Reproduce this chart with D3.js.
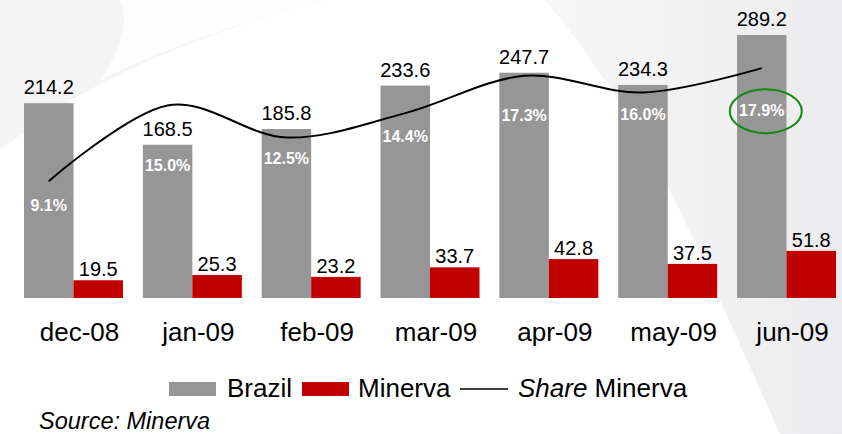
<!DOCTYPE html>
<html>
<head>
<meta charset="utf-8">
<script src="https://cdn.jsdelivr.net/npm/d3@7"></script>
<style>
  html, body { margin: 0; padding: 0; background: #ffffff; }
  svg { display: block; font-family: "Liberation Sans", Arial, sans-serif; }
</style>
</head>
<body>
<svg id="chart" width="842" height="434"></svg>
<script>
// ---- data ----
const categories = ["dec-08", "jan-09", "feb-09", "mar-09", "apr-09", "may-09", "jun-09"];
const brazil = [214.2, 168.5, 185.8, 233.6, 247.7, 234.3, 289.2];
const minerva = [19.5, 25.3, 23.2, 33.7, 42.8, 37.5, 51.8];
const shareMinerva = [9.1, 15.0, 12.5, 14.4, 17.3, 16.0, 17.9];
const seriesNames = ["Brazil", "Minerva"];

// ---- layout (not data) ----
const shareLabelDy = [30, 66, 26, 29, 45, 27, 48];
const colors = { Brazil: "#969696", Minerva: "#c00000" };

const svg = d3.select("#chart");

// background template shapes
const defs = svg.append("defs");
const grad = defs.append("linearGradient").attr("id", "rg").attr("x1", "0").attr("x2", "1").attr("y1", "0").attr("y2", "0");
grad.append("stop").attr("offset", "0").attr("stop-color", "#f7f7f8");
grad.append("stop").attr("offset", "1").attr("stop-color", "#ececee");
svg.append("path")
  .attr("d", "M545,0 C620,90 680,200 720,300 L780,434 L842,434 L842,0 Z")
  .attr("fill", "url(#rg)");
svg.append("path")
  .attr("d", "M0,0 L330,0 C250,20 160,50 80,95 C50,115 20,135 0,150 Z")
  .attr("fill", "#f5f5f6");
svg.append("path")
  .attr("d", "M120,0 L330,0 C250,20 170,45 100,80 C120,50 130,25 120,0 Z")
  .attr("fill", "#ffffff").attr("opacity", 0.8);

// ---- scales ----
const x = d3.scaleBand().domain(categories).range([24, 836]).paddingInner(0.167).paddingOuter(0);
const xs = d3.scaleBand().domain(seriesNames).range([0, x.bandwidth()]).padding(0);
const y = d3.scaleLinear().domain([0, 320]).range([298, 7]);
const yShare = d3.scaleLinear().domain([0, 20]).range([298, 41.2]);

const rows = categories.map((c, i) => ({ cat: c, Brazil: brazil[i], Minerva: minerva[i], share: shareMinerva[i], i }));

// bars
const g = svg.append("g");
const groups = g.selectAll("g.grp").data(rows).join("g")
  .attr("class", "grp")
  .attr("transform", d => `translate(${x(d.cat)},0)`);

groups.selectAll("rect").data(d => seriesNames.map(s => ({ s, v: d[s] }))).join("rect")
  .attr("x", d => xs(d.s))
  .attr("width", xs.bandwidth())
  .attr("y", d => y(d.v))
  .attr("height", d => y(0) - y(d.v))
  .attr("fill", d => colors[d.s]);

// value labels
groups.selectAll("text.val").data(d => seriesNames.map(s => ({ s, v: d[s] }))).join("text")
  .attr("class", "val")
  .attr("x", d => xs(d.s) + xs.bandwidth() / 2)
  .attr("y", d => y(d.v) - (d.s === "Brazil" ? 9 : 4))
  .attr("text-anchor", "middle")
  .attr("font-size", 20)
  .attr("fill", "#000")
  .text(d => d.v.toFixed(1));

// share line
const cx = d => x(d.cat) + xs("Brazil") + xs.bandwidth() / 2;
const line = d3.line().x(cx).y(d => yShare(d.share)).curve(d3.curveCardinal.tension(0));
svg.append("path").datum(rows)
  .attr("d", line)
  .attr("fill", "none")
  .attr("stroke", "#000")
  .attr("stroke-width", 2);

// share labels
svg.selectAll("text.share").data(rows).join("text")
  .attr("class", "share")
  .attr("x", cx)
  .attr("y", d => yShare(d.share) + shareLabelDy[d.i])
  .attr("text-anchor", "middle")
  .attr("font-size", 16)
  .attr("font-weight", "bold")
  .attr("fill", "#ffffff")
  .text(d => d.share.toFixed(1) + "%");

// highlight ellipse on last share label
const last = rows[rows.length - 1];
svg.append("ellipse")
  .attr("cx", cx(last) + 4)
  .attr("cy", yShare(last.share) + shareLabelDy[last.i] - 5)
  .attr("rx", 36)
  .attr("ry", 22)
  .attr("fill", "none")
  .attr("stroke", "#118a11")
  .attr("stroke-width", 2);

// category axis labels
const xAxis = d3.axisBottom(x).tickSize(0).tickPadding(0);
const ax = svg.append("g").attr("transform", "translate(6,320)").call(xAxis);
ax.select(".domain").remove();
ax.attr("font-family", "'Liberation Sans', Arial, sans-serif");
ax.selectAll("text").attr("font-size", 26).attr("fill", "#000").attr("dy", "0.8em");

// legend
const lg = svg.append("g");
lg.append("rect").attr("x", 169).attr("y", 382).attr("width", 47).attr("height", 14).attr("fill", colors.Brazil);
lg.append("text").attr("x", 227).attr("y", 397).attr("font-size", 26).text("Brazil");
lg.append("rect").attr("x", 302).attr("y", 382).attr("width", 47).attr("height", 14).attr("fill", colors.Minerva);
lg.append("text").attr("x", 358).attr("y", 397).attr("font-size", 26).text("Minerva");
lg.append("line").attr("x1", 460).attr("x2", 508).attr("y1", 389).attr("y2", 389).attr("stroke", "#000").attr("stroke-width", 1.5);
const lt = lg.append("text").attr("x", 518).attr("y", 397).attr("font-size", 26);
lt.append("tspan").attr("font-style", "italic").text("Share");
lt.append("tspan").text(" Minerva");

// source
svg.append("text").attr("x", 39).attr("y", 429).attr("font-size", 23.5).attr("font-style", "italic").text("Source: Minerva");
</script>
</body>
</html>
